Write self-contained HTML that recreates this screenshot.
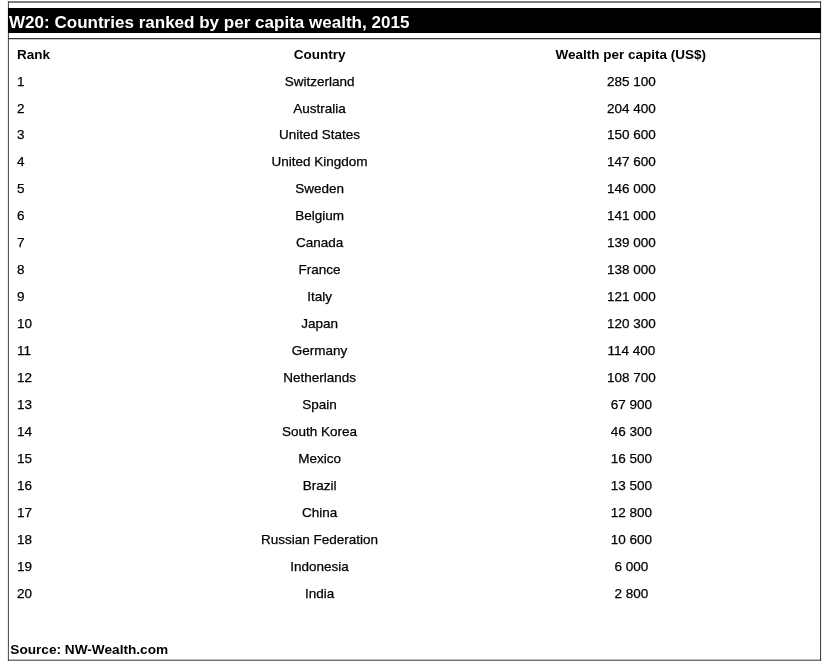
<!DOCTYPE html>
<html><head><meta charset="utf-8"><title>W20</title>
<style>
html,body{margin:0;padding:0;background:#fff;}
body{width:825px;height:664px;position:relative;overflow:hidden;font-family:"Liberation Sans",Arial,sans-serif;color:#000;}
.lines{position:absolute;left:0;top:0;}
.bar{position:absolute;left:8px;top:8px;width:813px;height:24.5px;background:#000;}
.title{position:absolute;left:9px;top:13px;font-size:17.05px;font-weight:bold;color:#fff;line-height:20px;white-space:nowrap;}
.t{position:absolute;white-space:nowrap;font-size:13.5px;line-height:16px;-webkit-text-stroke:0.25px #000;}
.r{left:17px;}
.c{left:219.6px;width:200px;text-align:center;}
.w{left:531.3px;width:200px;text-align:center;}
.h{font-weight:bold;font-size:13.5px;-webkit-text-stroke:0;}
.w.h{margin-left:-0.5px;}
.src{position:absolute;left:10.3px;top:642.7px;font-size:13.65px;font-weight:bold;line-height:14px;white-space:nowrap;}
</style></head><body>
<svg class="lines" width="825" height="664" viewBox="0 0 825 664">
<line x1="7.9" y1="2.05" x2="821.1" y2="2.05" stroke="#555" stroke-width="1.4"/>
<line x1="8.4" y1="1.5" x2="8.4" y2="660.7" stroke="#444" stroke-width="1"/>
<line x1="820.6" y1="1.5" x2="820.6" y2="660.7" stroke="#333" stroke-width="1"/>
<line x1="7.9" y1="660.2" x2="821.1" y2="660.2" stroke="#333" stroke-width="1"/>
<line x1="8" y1="38.55" x2="821" y2="38.55" stroke="#3a3a3a" stroke-width="1.35"/>
</svg>
<div class="bar"></div>
<div class="title">W20: Countries ranked by per capita wealth, 2015</div>
<div class="t r h" style="top:46.6px">Rank</div>
<div class="t c h" style="top:46.6px">Country</div>
<div class="t w h" style="top:46.6px">Wealth per capita (US$)</div>
<div class="t r" style="top:74.00px">1</div><div class="t c" style="top:74.00px">Switzerland</div><div class="t w" style="top:74.00px">285 100</div>
<div class="t r" style="top:101.00px">2</div><div class="t c" style="top:101.00px">Australia</div><div class="t w" style="top:101.00px">204 400</div>
<div class="t r" style="top:127.00px">3</div><div class="t c" style="top:127.00px">United States</div><div class="t w" style="top:127.00px">150 600</div>
<div class="t r" style="top:154.00px">4</div><div class="t c" style="top:154.00px">United Kingdom</div><div class="t w" style="top:154.00px">147 600</div>
<div class="t r" style="top:181.00px">5</div><div class="t c" style="top:181.00px">Sweden</div><div class="t w" style="top:181.00px">146 000</div>
<div class="t r" style="top:208.00px">6</div><div class="t c" style="top:208.00px">Belgium</div><div class="t w" style="top:208.00px">141 000</div>
<div class="t r" style="top:235.00px">7</div><div class="t c" style="top:235.00px">Canada</div><div class="t w" style="top:235.00px">139 000</div>
<div class="t r" style="top:262.00px">8</div><div class="t c" style="top:262.00px">France</div><div class="t w" style="top:262.00px">138 000</div>
<div class="t r" style="top:289.00px">9</div><div class="t c" style="top:289.00px">Italy</div><div class="t w" style="top:289.00px">121 000</div>
<div class="t r" style="top:316.00px">10</div><div class="t c" style="top:316.00px">Japan</div><div class="t w" style="top:316.00px">120 300</div>
<div class="t r" style="top:343.00px">11</div><div class="t c" style="top:343.00px">Germany</div><div class="t w" style="top:343.00px">114 400</div>
<div class="t r" style="top:370.00px">12</div><div class="t c" style="top:370.00px">Netherlands</div><div class="t w" style="top:370.00px">108 700</div>
<div class="t r" style="top:397.00px">13</div><div class="t c" style="top:397.00px">Spain</div><div class="t w" style="top:397.00px">67 900</div>
<div class="t r" style="top:424.00px">14</div><div class="t c" style="top:424.00px">South Korea</div><div class="t w" style="top:424.00px">46 300</div>
<div class="t r" style="top:451.00px">15</div><div class="t c" style="top:451.00px">Mexico</div><div class="t w" style="top:451.00px">16 500</div>
<div class="t r" style="top:478.00px">16</div><div class="t c" style="top:478.00px">Brazil</div><div class="t w" style="top:478.00px">13 500</div>
<div class="t r" style="top:505.00px">17</div><div class="t c" style="top:505.00px">China</div><div class="t w" style="top:505.00px">12 800</div>
<div class="t r" style="top:532.00px">18</div><div class="t c" style="top:532.00px">Russian Federation</div><div class="t w" style="top:532.00px">10 600</div>
<div class="t r" style="top:559.00px">19</div><div class="t c" style="top:559.00px">Indonesia</div><div class="t w" style="top:559.00px">6 000</div>
<div class="t r" style="top:586.00px">20</div><div class="t c" style="top:586.00px">India</div><div class="t w" style="top:586.00px">2 800</div>
<div class="src">Source: NW-Wealth.com</div>
</body></html>
